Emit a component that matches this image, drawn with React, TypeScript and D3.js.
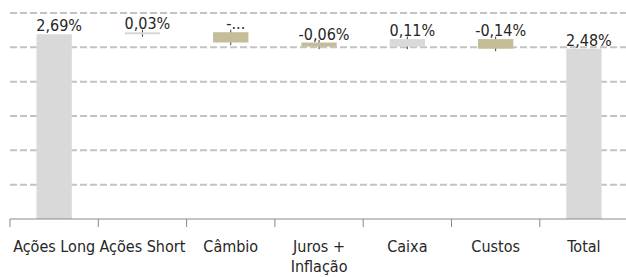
import React from 'react';
import * as d3 from 'd3';

const categories = ['Ações Long', 'Ações Short', 'Câmbio', 'Juros + Inflação', 'Caixa', 'Custos', 'Total'];
const categoryLines = [['Ações Long'], ['Ações Short'], ['Câmbio'], ['Juros +', 'Inflação'], ['Caixa'], ['Custos'], ['Total']];
const values = [2.69, 0.03, -0.15, -0.06, 0.11, -0.14, 2.48];
const isTotal = [true, false, false, false, false, false, true];
const valueLabels = ['2,69%', '0,03%', '-...', '-0,06%', '0,11%', '-0,14%', '2,48%'];
const yTicks = [0, 0.5, 1, 1.5, 2, 2.5, 3];

const W = 626;
const H = 277;
const FONT = "'DejaVu Sans Condensed', 'Liberation Sans', sans-serif";

export default function App() {
  const left = 10;
  const step = 88.3;
  const x = d3.scaleBand<string>()
    .domain(categories)
    .range([left, left + step * categories.length])
    .paddingInner(0.6)
    .paddingOuter(0.3);
  const y = d3.scaleLinear().domain([0, 3]).range([219, 13]);

  let running = 0;
  const bars = categories.map((c, i) => {
    let start: number, end: number;
    if (isTotal[i]) {
      start = 0;
      end = values[i];
      running = values[i];
    } else {
      start = running;
      end = running + values[i];
      running = end;
    }
    return { c, i, start, end, v: values[i] };
  });

  const bw = x.bandwidth();
  const stepPx = x.step();
  const boundaries = d3.range(categories.length + 1).map(i => left + i * stepPx);

  return (
    <svg width={W} height={H} style={{ position: 'absolute', left: 0, top: 0, display: 'block', background: '#fff' }}>
      {yTicks.filter(t => t > 0).map(t => (
        <line key={t} x1={left} x2={W} y1={y(t)} y2={y(t)} stroke="#c3c3c3" strokeWidth={2} strokeDasharray="7,3" />
      ))}
      {bars.filter(b => !isTotal[b.i]).map(b => {
        const cx = (x(b.c) as number) + bw / 2;
        const top = y(Math.max(b.start, b.end));
        const bot = y(Math.min(b.start, b.end));
        return <line key={'e' + b.i} x1={cx} x2={cx} y1={top - 2.5} y2={bot + 2.5} stroke="#404040" strokeWidth={1} />;
      })}
      {bars.map(b => {
        const top = y(Math.max(b.start, b.end));
        const bot = y(Math.min(b.start, b.end));
        const h = Math.max(bot - top, 1.5);
        const fill = b.v < 0 ? '#c4bd97' : '#d9d9d9';
        return <rect key={'b' + b.i} x={x(b.c)} y={top} width={bw} height={h} fill={fill} />;
      })}
      <line x1={left} x2={W} y1={y(0)} y2={y(0)} stroke="#898989" strokeWidth={1} />
      {boundaries.map((bx, i) => (
        <line key={'t' + i} x1={bx} x2={bx} y1={y(0)} y2={y(0) + 8} stroke="#898989" strokeWidth={1} />
      ))}
      {bars.map(b => {
        const cx = (x(b.c) as number) + bw / 2 + 5;
        const top = y(Math.max(b.start, b.end));
        return (
          <text key={'l' + b.i} x={cx} y={top - 3} textAnchor="middle" fontFamily={FONT} fontSize={16} fill="#262626">
            {valueLabels[b.i]}
          </text>
        );
      })}
      {categories.map((c, i) => (
        <text key={'c' + i} x={(x(c) as number) + bw / 2} textAnchor="middle" fontFamily={FONT} fontSize={16} fill="#262626">
          {categoryLines[i].map((ln, j) => (
            <tspan key={j} x={(x(c) as number) + bw / 2} y={252 + j * 20}>{ln}</tspan>
          ))}
        </text>
      ))}
    </svg>
  );
}
